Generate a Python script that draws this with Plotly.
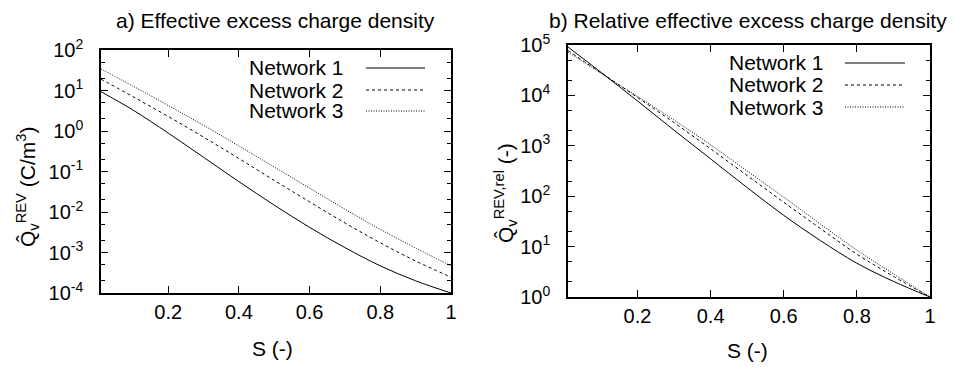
import plotly.graph_objects as go

# target window 955x369; the page body adds an 8px margin, so the figure is 8px smaller
OFF = 8
W, H = 955 - OFF, 369 - OFF

# ---- data ----
s_vals = [0.01, 0.1, 0.2, 0.3, 0.4, 0.5, 0.6, 0.7, 0.8, 0.9, 1.0]

# a) effective excess charge density (C/m^3)
q_net1 = [9.33, 3.31, 0.891, 0.224, 0.0562, 0.0148, 0.00417, 0.00132, 0.000468, 0.000200, 0.000100]
q_net2 = [19.1, 7.08, 2.29, 0.708, 0.209, 0.0603, 0.0178, 0.00537, 0.00174, 0.000617, 0.000245]
q_net3 = [33.9, 12.9, 4.27, 1.38, 0.427, 0.129, 0.0389, 0.0117, 0.00372, 0.00129, 0.000468]

# b) relative effective excess charge density (-)
r_net1 = [91200, 28800, 7760, 2040, 550, 148, 41.7, 13.2, 4.68, 2.04, 1.0]
r_net2 = [77600, 28200, 9120, 2880, 871, 257, 75.9, 22.9, 7.08, 2.57, 1.0]
r_net3 = [72400, 27500, 9550, 3240, 1047, 316, 95.5, 28.2, 8.51, 2.88, 1.0]

series_names = ["Network 1", "Network 2", "Network 3"]

x_tickvals = [0.2, 0.4, 0.6, 0.8, 1.0]
x_ticktext = ["0.2", "0.4", "0.6", "0.8", "1"]

ya_exponents = [-4, -3, -2, -1, 0, 1, 2]
yb_exponents = [0, 1, 2, 3, 4, 5]

# ---- styling ----
FONT = "Liberation Sans, Arial, Helvetica, sans-serif"
FS = 20
FS_TXT = 21
dashes = ["solid", "3px,3px", "1px,1.5px"]


def px_x(v):
    return (v - OFF) / W


def px_y(v):
    return 1 - (v - OFF) / H


fig = go.Figure()

for ys, dash in zip([q_net1, q_net2, q_net3], dashes):
    fig.add_trace(go.Scatter(x=s_vals, y=ys, mode="lines", xaxis="x", yaxis="y",
                             line=dict(color="black", width=1, dash=dash, shape="spline", smoothing=1.0),
                             showlegend=False, hoverinfo="skip"))
for ys, dash in zip([r_net1, r_net2, r_net3], dashes):
    fig.add_trace(go.Scatter(x=s_vals, y=ys, mode="lines", xaxis="x2", yaxis="y2",
                             line=dict(color="black", width=1, dash=dash, shape="spline", smoothing=1.0),
                             showlegend=False, hoverinfo="skip"))


def exp_label(e):
    return "10<sup>%d</sup>" % e


def minor_vals(exps):
    out = []
    for e in exps[:-1]:
        out += [2 * 10 ** e, 5 * 10 ** e]
    return out


axis_common = dict(showline=True, linecolor="black", linewidth=1.5, mirror="allticks",
                   ticks="inside", ticklen=7, tickwidth=1, tickcolor="black",
                   showgrid=False, zeroline=False, automargin=False,
                   tickfont=dict(family=FONT, size=FS, color="black"))

xcommon = dict(axis_common, range=[0.01, 1.0], tickmode="array",
               tickvals=x_tickvals, ticktext=x_ticktext, ticklabelstandoff=0)


def ycommon(exps):
    return dict(axis_common, type="log", range=[exps[0], exps[-1]], tickmode="array",
                tickvals=[10 ** e for e in exps], ticktext=[exp_label(e) for e in exps],
                ticklabelstandoff=12,
                minor=dict(tickmode="array", tickvals=minor_vals(exps), ticks="inside",
                           ticklen=4, tickcolor="black", tickwidth=1, showgrid=False))


fig.update_layout(
    width=W, height=H,
    margin=dict(l=0, r=0, t=0, b=0, pad=0, autoexpand=False),
    paper_bgcolor="white", plot_bgcolor="white",
    font=dict(family=FONT, size=FS, color="black"),
    xaxis=dict(xcommon, domain=[px_x(101), px_x(451)], anchor="y"),
    yaxis=dict(ycommon(ya_exponents), domain=[px_y(293), px_y(50)], anchor="x"),
    xaxis2=dict(xcommon, domain=[px_x(568), px_x(930)], anchor="y2"),
    yaxis2=dict(ycommon(yb_exponents), domain=[px_y(297), px_y(45)], anchor="x2"),
)

annotations = [
    dict(text="a) Effective excess charge density", x=px_x(275), y=1.0, yanchor="top"),
    dict(text="b) Relative effective excess charge density", x=px_x(948), y=1.0, xanchor="right", yanchor="top"),
    dict(text="S (-)", x=px_x(272), y=px_y(348)),
    dict(text="S (-)", x=px_x(747), y=px_y(350)),
    dict(text="Q\u0302<sub>v</sub><sup>REV</sup> (C/m<sup>3</sup>)", x=px_x(28), y=px_y(187), textangle=-90),
    dict(text="Q\u0302<sub>v</sub><sup>REV,rel</sup> (-)", x=px_x(505), y=px_y(193), textangle=-90),
]
for a in annotations:
    a.setdefault("xanchor", "center")
    a.setdefault("yanchor", "middle")
    a.update(xref="paper", yref="paper", showarrow=False, borderpad=0,
             font=dict(family=FONT, size=FS_TXT, color="black"))

# legend (gnuplot style: text then sample line)
legend_a = dict(text_right=345, line_x=(366, 425), rows=[68, 90, 111])
legend_b = dict(text_right=825, line_x=(845, 905), rows=[63, 85, 107])
shapes = []
for lg in (legend_a, legend_b):
    for name, dash, ry in zip(series_names, dashes, lg["rows"]):
        annotations.append(dict(text=name, x=px_x(lg["text_right"]), y=px_y(ry), xref="paper", yref="paper",
                                showarrow=False, xanchor="right", yanchor="middle", borderpad=0,
                                font=dict(family=FONT, size=FS_TXT, color="black")))
        shapes.append(dict(type="line", xref="paper", yref="paper",
                           x0=px_x(lg["line_x"][0]), x1=px_x(lg["line_x"][1]),
                           y0=px_y(ry), y1=px_y(ry),
                           line=dict(color="black", width=1, dash=dash)))

fig.update_layout(annotations=annotations, shapes=shapes)

fig.write_html("out.html")
